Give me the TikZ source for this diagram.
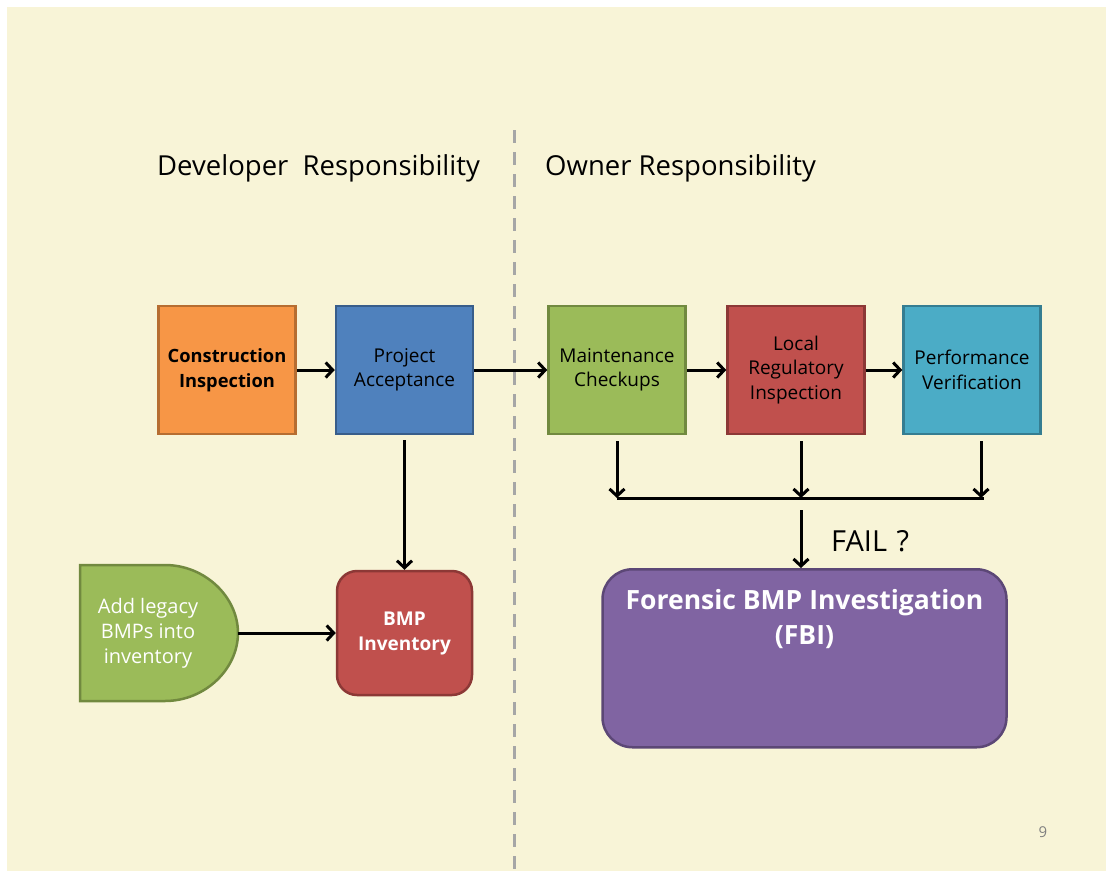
\documentclass[tikz,border=0pt]{standalone}
\usepackage{fontspec}
\setmainfont{Open Sans}
\usetikzlibrary{arrows.meta,positioning}
\definecolor{bgc}{HTML}{F8F4D7}
\definecolor{orf}{HTML}{F79646}\definecolor{ord}{HTML}{B66D31}
\definecolor{blf}{HTML}{4F81BD}\definecolor{bld}{HTML}{385D8A}
\definecolor{grf}{HTML}{9BBB59}\definecolor{grd}{HTML}{71893F}
\definecolor{rdf}{HTML}{C0504D}\definecolor{rdd}{HTML}{8C3836}
\definecolor{cyf}{HTML}{4BACC6}\definecolor{cyd}{HTML}{357D91}
\definecolor{puf}{HTML}{8064A2}\definecolor{pud}{HTML}{5C4776}
\definecolor{divc}{HTML}{A6A6A6}
\tikzset{
  procbox/.style={line width=2.5pt,minimum width=137pt,minimum height=128pt,align=center,inner sep=2pt,font=\fontsize{19}{24.5}\selectfont},
  flow/.style={line width=3pt,-{Straight Barb[length=7pt,width=15pt,line width=3pt]}},
  plain/.style={line width=3pt},
  heading/.style={font=\fontsize{27.5}{30}\selectfont,anchor=west,inner sep=0pt},
}
\begin{document}
\begin{tikzpicture}[x=1pt,y=-1pt]
\useasboundingbox (0,0) rectangle (1106,871);
\fill[white] (0,0) rectangle (1106,871);
\fill[bgc] (7,7) rectangle (1106,871);
% divider
\draw[divc,line width=3pt,dash pattern=on 13pt off 9pt] (514,130) -- (514,871);
% headings
\node[heading] (devh) at (157,168) {Developer\ \ Responsibility};
\node[heading] (ownh) at (545,168) {Owner Responsibility};
% process boxes
\node[procbox,fill=orf,draw=ord,font=\fontsize{18.3}{24.5}\selectfont\bfseries] (ci) at (227,370) {Construction\\Inspection};
\node[procbox,fill=blf,draw=bld] (pa) at (404.5,370) {Project\\Acceptance};
\node[procbox,fill=grf,draw=grd] (mc) at (617,370) {Maintenance\\Checkups};
\node[procbox,fill=rdf,draw=rdd] (lri) at (796,370) {Local\\Regulatory\\Inspection};
\node[procbox,fill=cyf,draw=cyd] (pv) at (972,370) {Performance\\Verification};
\draw[flow] (ci) -- (pa);
\draw[flow] (pa) -- (mc);
\draw[flow] (mc) -- (lri);
\draw[flow] (lri) -- (pv);
% BMP inventory
\node[draw=rdd,fill=rdf,line width=2.5pt,rounded corners=20pt,minimum width=135pt,minimum height=124pt,align=center,text=white,font=\fontsize{19}{25}\selectfont\bfseries] (inv) at (404.5,633) {BMP\\Inventory};
\draw[flow] (pa.south |- 0,440) -- (inv.north);
% legacy D shape
\path[fill=grf,draw=grd,line width=2.5pt] (80,565) -- (165,565) .. controls (205,565) and (238,597) .. (238,633) .. controls (238,669) and (205,701) .. (165,701) -- (80,701) -- cycle;
\node[minimum width=158pt,minimum height=136pt,inner sep=0pt,align=center,text=white,font=\fontsize{20}{25}\selectfont] (leg) at (159,633) {\hspace*{-22pt}Add legacy\\\hspace*{-22pt}BMPs into\\\hspace*{-22pt}inventory};
\draw[flow] (leg.east) -- (inv.west);
% fail collection
\coordinate (jl) at (617,498);
\coordinate (jr) at (984,498);
\coordinate (jm) at (801,498);
\draw[flow] (mc.south |- 0,441) -- (mc.south |- jl);
\draw[flow] (lri.south -| jm) ++(0,6) -- (jm);
\draw[flow] (pv.south -| 981,0) ++(0,6) -- (981,498);
\draw[plain] (jl) -- (jr);
% FBI
\node[draw=pud,fill=puf,line width=2.5pt,rounded corners=30pt,minimum width=404pt,minimum height=178pt,anchor=north,inner sep=0pt] (fbi) at (804.5,568) {};
\node[text=white,align=center,font=\fontsize{26.5}{35}\selectfont\bfseries,anchor=north] (fbit) at (804.5,586) {Forensic BMP Investigation\\(FBI)};
\coordinate (fs) at (801,510);
\draw[flow] (fs) -- (fs |- fbi.north);
\node[font=\fontsize{29}{30}\selectfont,anchor=west,inner sep=0pt] (fail) at (831,541) {FAIL\,\,?};
% page number
\node[text=gray,font=\fontsize{15}{18}\selectfont] (pg) at (1043,832) {9};
\end{tikzpicture}
\end{document}
